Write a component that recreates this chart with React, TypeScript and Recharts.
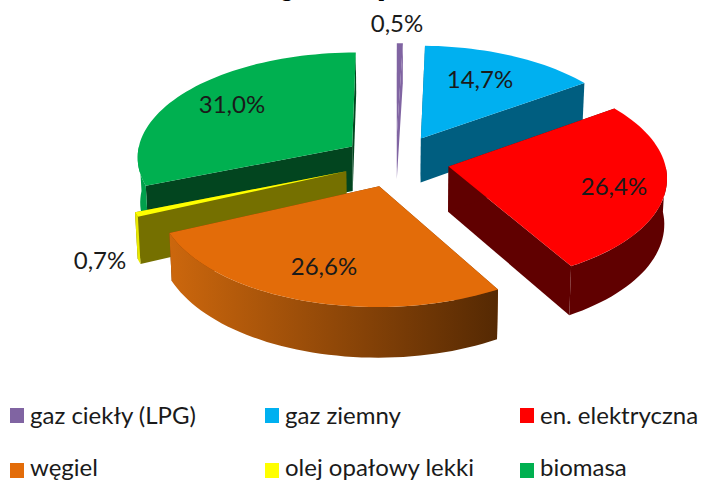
import React from 'react';
import { PieChart, Pie, Legend } from 'recharts';

const names = ['gaz ciekły (LPG)', 'gaz ziemny', 'en. elektryczna', 'węgiel', 'olej opałowy lekki', 'biomasa'];
const shares = [0.5, 14.7, 26.4, 26.6, 0.7, 31.0];
const shareLabels = ['0,5%', '14,7%', '26,4%', '26,6%', '0,7%', '31,0%'];

const topColors = ['#8064a2', '#00b0f0', '#ff0000', '#e36c09', '#ffff00', '#00b050'];
const cutColors = ['#8064a2', '#005e80', '#600000', '#7a3a06', '#757000', '#02451f'];
const rimColors = ['#8064a2', '#005e80', '#600000', 'url(#rimOrange)', '#e8e800', '#00a04c'];

// painter's order, back slices first
const drawOrder = [0, 5, 1, 4, 2, 3];

const labelSpots = [
  { x: 397, y: 24 }, { x: 480, y: 80 }, { x: 614, y: 187 },
  { x: 324, y: 267 }, { x: 100, y: 261 }, { x: 232, y: 105 },
];
const legendSpots = [
  { x: 10, y: 408, textTop: 402 }, { x: 265, y: 408, textTop: 402 }, { x: 520, y: 408, textTop: 402 },
  { x: 10, y: 463, textTop: 454 }, { x: 265, y: 463, textTop: 454 }, { x: 520, y: 463, textTop: 454 },
];

const WIDTH = 706;
const HEIGHT = 481;
const FONT = 'Lato, sans-serif';
const SQUASH = 105 / 216;
const PERSPECTIVE = 0.09;
const EXPLODE = 0.248;
const DEPTH = 45;

const chartData = names.map((name, i) => ({ name, value: shares[i], index: i }));

const rad = (deg: number) => (deg * Math.PI) / 180;

const Slice3D = (props: any) => {
  const { cx, cy, outerRadius: R, startAngle, endAngle, index } = props;
  const a0 = 90 - startAngle;
  const a1 = 90 - endAngle;
  const mid = (a0 + a1) / 2;
  const ox = EXPLODE * Math.sin(rad(mid));
  const oy = -EXPLODE * Math.cos(rad(mid));

  const project = (wx: number, wy: number, low: boolean) => {
    const p = 1 / (1 - PERSPECTIVE * wy);
    const shrink = low ? 0.99 : 1;
    return {
      x: cx + R * wx * p * shrink,
      y: cy + R * SQUASH * wy * p + (low ? DEPTH * p : 0),
    };
  };
  const onRim = (deg: number, low: boolean) =>
    project(ox + Math.sin(rad(deg)), oy - Math.cos(rad(deg)), low);
  const apexTop = project(ox, oy, false);
  const apexLow = project(ox, oy, true);
  const fmt = (pt: { x: number; y: number }) => `${pt.x.toFixed(1)} ${pt.y.toFixed(1)}`;

  const arc = (from: number, to: number, low: boolean) => {
    const out: string[] = [];
    const steps = Math.max(2, Math.ceil(Math.abs(to - from) / 2));
    for (let s = 0; s <= steps; s++) out.push(fmt(onRim(from + ((to - from) * s) / steps, low)));
    return out;
  };

  const top = `M${fmt(apexTop)} L${arc(a0, a1, false).join(' L')} Z`;
  const wall = (deg: number) =>
    `M${fmt(apexTop)} L${fmt(onRim(deg, false))} L${fmt(onRim(deg, true))} L${fmt(apexLow)} Z`;

  const rimFrom = Math.max(a0, 90);
  const rimTo = Math.min(a1, 270);
  const rim =
    rimTo > rimFrom
      ? `M${arc(rimFrom, rimTo, false).join(' L')} L${arc(rimTo, rimFrom, true).join(' L')} Z`
      : null;

  return (
    <g>
      <defs>
        <linearGradient id="rimOrange" x1="0" x2="1" y1="0" y2="0">
          <stop offset="0%" stopColor="#cc670d" />
          <stop offset="100%" stopColor="#552903" />
        </linearGradient>
      </defs>
      <path d={wall(a1)} fill={cutColors[index]} />
      <path d={wall(a0)} fill={cutColors[index]} />
      {rim && <path d={rim} fill={rimColors[index]} />}
      <path d={top} fill={topColors[index]} />
    </g>
  );
};

const sliceLabel = (only: number) => (props: any) => {
  if (props.index !== only) return null;
  const spot = labelSpots[only];
  return (
    <text x={spot.x} y={spot.y + 8} textAnchor="middle" fontFamily={FONT} fontSize={24} fill="#1a1a1a">
      {shareLabels[only]}
    </text>
  );
};

const LegendBlock = () => (
  <div style={{ position: 'relative', width: WIDTH, height: HEIGHT }}>
    {names.map((name, i) => (
      <div key={name}>
        <div
          style={{
            position: 'absolute',
            left: legendSpots[i].x,
            top: legendSpots[i].y,
            width: 14,
            height: 15,
            background: topColors[i],
          }}
        />
        <div
          style={{
            position: 'absolute',
            left: legendSpots[i].x + 20,
            top: legendSpots[i].textTop,
            fontFamily: FONT,
            fontSize: 24,
            lineHeight: '26px',
            color: '#1a1a1a',
            whiteSpace: 'nowrap',
          }}
        >
          {name}
        </div>
      </div>
    ))}
  </div>
);

export default function App() {
  return (
    <div style={{ position: 'absolute', left: 0, top: 0, width: WIDTH, height: HEIGHT, background: '#fff' }}>
      <PieChart width={WIDTH} height={HEIGHT} margin={{ top: 0, right: 0, bottom: 0, left: 0 }}>
        {/* bottom of the title that is cut off by the picture's edge */}
        <text x={287} y={-3} textAnchor="middle" fontFamily={FONT} fontSize={24} fontWeight="bold" fill="#000">g</text>
        <text x={382} y={-3} textAnchor="middle" fontFamily={FONT} fontSize={24} fontWeight="bold" fill="#000">]</text>
        {drawOrder.map((idx) => (
          <Pie
            key={idx}
            data={chartData}
            dataKey="value"
            nameKey="name"
            cx={396}
            cy={161}
            outerRadius={216}
            startAngle={90}
            endAngle={-270}
            stroke="none"
            isAnimationActive={false}
            labelLine={false}
            label={sliceLabel(idx)}
            shape={(p: any) => (p.index === idx ? <Slice3D {...p} /> : <g />)}
          />
        ))}
        <Legend
          content={() => <LegendBlock />}
          wrapperStyle={{ left: 0, top: 0, bottom: 'auto', width: WIDTH, height: HEIGHT, pointerEvents: 'none' }}
        />
      </PieChart>
    </div>
  );
}
